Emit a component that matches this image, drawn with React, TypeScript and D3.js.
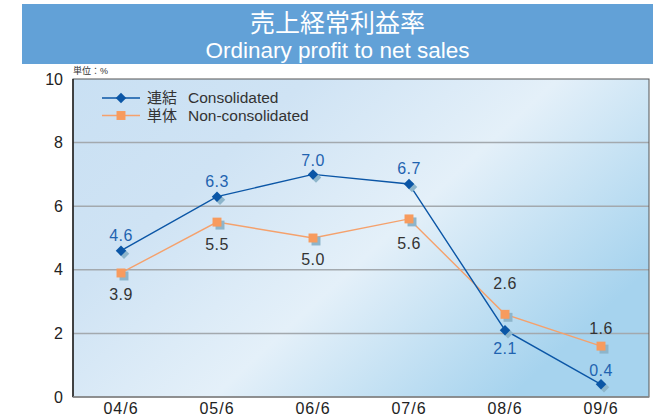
import { useEffect, useRef } from "react";
import * as d3 from "d3";

const LAYOUT = {
  width: 653,
  height: 419,
  margin: { top: 79, right: 4, bottom: 22, left: 73 },
  banner: { x: 22, y: 4, height: 60 },
};

const FONT = "'Liberation Sans', Arial, 'Noto Sans CJK JP', sans-serif";

const PERIODS = ["04/6", "05/6", "06/6", "07/6", "08/6", "09/6"];
const CONSOLIDATED = [4.6, 6.3, 7.0, 6.7, 2.1, 0.4];
const NON_CONSOLIDATED = [3.9, 5.5, 5.0, 5.6, 2.6, 1.6];
const Y_TICKS = [0, 2, 4, 6, 8, 10];

// vertical label offsets from the marker (px, negative = above)
const CONS_LABEL_OFFSET = [-15, -15, -14, -16, 18, -14];
const NON_LABEL_OFFSET = [21, 22, 21, 24, -31, -18];

const COLORS = {
  banner: "#62a1d7",
  cons: "#0b56a6",
  consLabel: "#1f63b0",
  non: "#f5a16c",
  nonMarker: "#f79b5e",
  nonLabel: "#333",
  shadow: "#8db5cb",
  grid: "#a3a9ae",
};

function drawChart(container: SVGSVGElement) {
  const { width, height, margin, banner } = LAYOUT;
  const svg = d3.select(container);
  svg.selectAll("*").remove();

  const innerWidth = width - margin.left - margin.right;
  const innerHeight = height - margin.top - margin.bottom;

  const defs = svg.append("defs");
  const grad = defs
    .append("linearGradient")
    .attr("id", "bg")
    .attr("x1", "0%")
    .attr("y1", "0%")
    .attr("x2", "100%")
    .attr("y2", "60%");
  grad.append("stop").attr("offset", "0%").attr("stop-color", "#c9e0f3");
  grad.append("stop").attr("offset", "30%").attr("stop-color", "#cfe3f4");
  grad.append("stop").attr("offset", "62%").attr("stop-color", "#e4f0f9");
  grad.append("stop").attr("offset", "100%").attr("stop-color", "#a6d3ee");

  // title banner
  svg
    .append("rect")
    .attr("x", banner.x)
    .attr("y", banner.y)
    .attr("width", width - banner.x)
    .attr("height", banner.height)
    .attr("fill", COLORS.banner);
  const cx = banner.x + (width - banner.x) / 2;
  svg
    .append("text")
    .attr("x", cx)
    .attr("y", 32)
    .attr("text-anchor", "middle")
    .attr("font-family", FONT)
    .attr("font-size", 25)
    .attr("fill", "#fff")
    .text("売上経常利益率");
  svg
    .append("text")
    .attr("x", cx)
    .attr("y", 58)
    .attr("text-anchor", "middle")
    .attr("font-family", FONT)
    .attr("font-size", 22.5)
    .attr("fill", "#fff")
    .text("Ordinary profit to net sales");

  const g = svg
    .append("g")
    .attr("transform", `translate(${margin.left},${margin.top})`);

  const x = d3
    .scalePoint<string>()
    .domain(PERIODS)
    .range([0, innerWidth])
    .padding(0.5);
  const y = d3.scaleLinear().domain([0, 10]).range([innerHeight, 0]);

  g.append("rect")
    .attr("width", innerWidth)
    .attr("height", innerHeight)
    .attr("fill", "url(#bg)");

  // grid
  g.selectAll("line.grid")
    .data(Y_TICKS.filter((t) => t > 0 && t < 10))
    .join("line")
    .attr("x1", 0)
    .attr("x2", innerWidth)
    .attr("y1", (d) => y(d))
    .attr("y2", (d) => y(d))
    .attr("stroke", COLORS.grid)
    .attr("stroke-width", 1.5);

  // frame
  g.append("rect")
    .attr("width", innerWidth)
    .attr("height", innerHeight)
    .attr("fill", "none")
    .attr("stroke", "#555")
    .attr("stroke-width", 1);
  g.append("line")
    .attr("x1", 0)
    .attr("x2", 0)
    .attr("y1", 0)
    .attr("y2", innerHeight)
    .attr("stroke", "#222")
    .attr("stroke-width", 1.5);
  g.append("line")
    .attr("x1", 0)
    .attr("x2", innerWidth)
    .attr("y1", innerHeight)
    .attr("y2", innerHeight)
    .attr("stroke", "#888")
    .attr("stroke-width", 1.5);

  // y ticks
  g.selectAll("text.ytick")
    .data(Y_TICKS)
    .join("text")
    .attr("x", -10)
    .attr("y", (d) => y(d))
    .attr("dy", "0.35em")
    .attr("text-anchor", "end")
    .attr("font-family", FONT)
    .attr("font-size", 16)
    .attr("fill", "#222")
    .text((d) => d);

  // x ticks
  g.selectAll("text.xtick")
    .data(PERIODS)
    .join("text")
    .attr("x", (d) => x(d)!)
    .attr("y", innerHeight + 17)
    .attr("text-anchor", "middle")
    .attr("font-family", FONT)
    .attr("font-size", 16)
    .attr("letter-spacing", 1)
    .attr("fill", "#222")
    .text((d) => d);

  g.append("text")
    .attr("x", 0)
    .attr("y", -5)
    .attr("font-family", FONT)
    .attr("font-size", 9)
    .attr("fill", "#333")
    .text("単位：%");

  const line = d3
    .line<number>()
    .x((_d, i) => x(PERIODS[i])!)
    .y((d) => y(d));

  const diamond = d3.symbol().type(d3.symbolDiamond2).size(70);
  const square = d3.symbol().type(d3.symbolSquare).size(80);

  const series = [
    {
      values: NON_CONSOLIDATED,
      color: COLORS.non,
      marker: COLORS.nonMarker,
      shape: square,
      labelColor: COLORS.nonLabel,
      offset: NON_LABEL_OFFSET,
    },
    {
      values: CONSOLIDATED,
      color: COLORS.cons,
      marker: COLORS.cons,
      shape: diamond,
      labelColor: COLORS.consLabel,
      offset: CONS_LABEL_OFFSET,
    },
  ];

  series.forEach((s) => {
    g.append("path")
      .datum(s.values)
      .attr("fill", "none")
      .attr("stroke", s.color)
      .attr("stroke-width", 1.4)
      .attr("d", line);

    g.selectAll(null)
      .data(s.values)
      .join("path")
      .attr(
        "transform",
        (d, i) => `translate(${x(PERIODS[i])! + 3},${y(d) + 3})`
      )
      .attr("d", s.shape()!)
      .attr("fill", COLORS.shadow);

    g.selectAll(null)
      .data(s.values)
      .join("path")
      .attr("transform", (d, i) => `translate(${x(PERIODS[i])},${y(d)})`)
      .attr("d", s.shape()!)
      .attr("fill", s.marker);

    g.selectAll(null)
      .data(s.values)
      .join("text")
      .attr("x", (_d, i) => x(PERIODS[i])!)
      .attr("y", (d, i) => y(d) + s.offset[i])
      .attr("dy", "0.35em")
      .attr("text-anchor", "middle")
      .attr("font-family", FONT)
      .attr("font-size", 16)
      .attr("letter-spacing", 0.5)
      .attr("fill", s.labelColor)
      .text((d) => d.toFixed(1));
  });

  // legend
  const legendItems = [
    { jp: "連結", en: "Consolidated", color: COLORS.cons, marker: COLORS.cons, shape: diamond },
    { jp: "単体", en: "Non-consolidated", color: COLORS.non, marker: COLORS.nonMarker, shape: square },
  ];
  const legend = g.append("g").attr("transform", "translate(29,19)");
  legendItems.forEach((item, i) => {
    const row = legend.append("g").attr("transform", `translate(0,${i * 17.5})`);
    row
      .append("line")
      .attr("x1", 0)
      .attr("x2", 38)
      .attr("stroke", item.color)
      .attr("stroke-width", 1.4);
    row
      .append("path")
      .attr("transform", "translate(19,0)")
      .attr("d", item.shape()!)
      .attr("fill", item.marker);
    row
      .append("text")
      .attr("x", 45)
      .attr("dy", "0.35em")
      .attr("font-family", FONT)
      .attr("font-size", 15)
      .attr("fill", "#333")
      .text(item.jp);
    row
      .append("text")
      .attr("x", 86)
      .attr("dy", "0.35em")
      .attr("font-family", FONT)
      .attr("font-size", 15.5)
      .attr("fill", "#333")
      .text(item.en);
  });
}

export default function App() {
  const ref = useRef<SVGSVGElement>(null);

  useEffect(() => {
    if (ref.current) drawChart(ref.current);
  }, []);

  return (
    <svg
      ref={ref}
      width={LAYOUT.width}
      height={LAYOUT.height}
      style={{ position: "absolute", left: 0, top: 0 }}
    />
  );
}
